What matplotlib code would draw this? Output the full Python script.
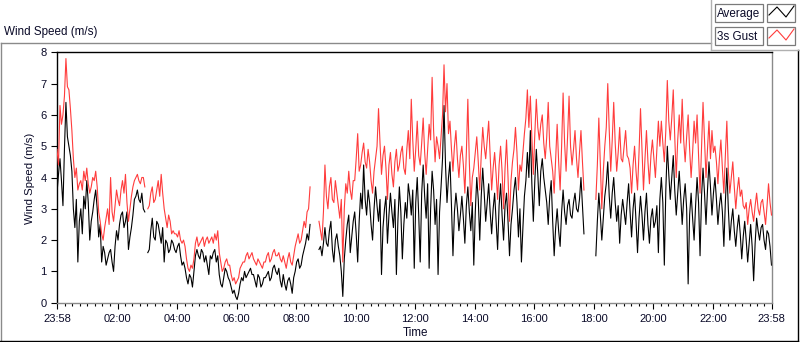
import numpy as np
import matplotlib
matplotlib.use("Agg")
import matplotlib.pyplot as plt
from matplotlib.lines import Line2D
from matplotlib.patches import Rectangle

nan = np.nan

# ---------------- data (3-minute samples starting 23:58) ----------------
start_label = "23:58"
sample_minutes = 3

average = [
    3.5, 4.1, 4.6, 3.9, 3.1, 4.9, 6.4, 5.3, 5.0, 4.7, 4.2, 3.0, 2.4, 3.3, 1.3, 2.6, 3.0, 2.2, 3.4, 3.0,
    3.9, 3.2, 2.0, 2.6, 2.9, 3.3, 3.6, 3.0, 2.1, 2.5, 1.3, 1.8, 1.6, 1.2, 1.4, 1.6, 1.7, 1.3, 1.0, 1.8,
    2.3, 2.0, 2.5, 2.8, 2.9, 2.4, 2.6, 2.9, 1.7, 2.1, 2.4, 2.8, 3.3, 3.4, 3.6, 3.3, 3.2, 3.5, 3.0, 2.9,
    nan, 1.6, 1.7, 2.3, 2.7, 2.1, 2.0, 2.6, 2.5, 2.2, 1.9, 2.4, 1.3, 2.0, 1.9, 1.6, 1.7, 2.0, 1.9, 1.7,
    1.6, 1.8, 1.9, 1.5, 1.2, 1.3, 1.1, 0.8, 0.6, 0.9, 0.8, 0.5, 1.0, 1.5, 1.7, 1.5, 1.4, 1.7, 1.6, 1.3,
    1.5, 1.2, 0.9, 1.5, 1.4, 1.6, 1.7, 1.3, 1.5, 0.9, 0.6, 0.5, 0.8, 1.1, 1.0, 0.8, 0.7, 0.5, 0.3, 0.4,
    0.2, 0.1, 0.3, 0.6, 0.8, 0.7, 1.0, 0.8, 0.9, 1.0, 1.1, 0.9, 0.9, 0.7, 0.5, 0.9, 0.8, 0.5, 0.6, 0.8,
    0.8, 0.9, 1.0, 0.7, 0.8, 1.1, 1.2, 1.0, 0.9, 1.1, 0.7, 0.5, 0.9, 0.6, 0.4, 0.7, 0.8, 0.6, 0.3, 0.8,
    1.0, 1.3, 1.4, 1.1, 1.2, 1.5, 1.7, 1.9, 2.2, 2.0, 2.5, nan, nan, nan, nan, nan, 1.7, 1.8, 1.5, 1.9,
    2.4, 1.9, 1.8, 2.3, 2.6, 1.7, 1.3, 2.0, 2.2, 1.8, 1.5, 1.0, 0.2, 1.4, 2.0, 2.5, 2.8, 1.6, 2.1, 2.6,
    2.9, 2.2, 1.3, 2.6, 3.5, 3.0, 4.4, 3.3, 2.8, 3.6, 3.2, 2.5, 2.0, 3.0, 3.7, 3.1, 2.6, 3.3, 0.9, 2.4,
    3.0, 3.4, 1.9, 2.8, 3.5, 2.9, 2.4, 3.3, 0.9, 2.6, 3.7, 2.9, 1.4, 2.5, 3.2, 2.7, 3.8, 3.4, 2.8, 3.6,
    1.1, 3.2, 4.0, 2.8, 1.3, 3.5, 4.4, 3.4, 2.7, 3.8, 1.1, 3.0, 4.2, 3.6, 2.5, 3.3, 0.9, 2.9, 3.7, 4.6,
    6.3, 4.4, 3.2, 4.0, 4.5, 3.1, 1.5, 2.9, 3.5, 3.0, 2.3, 2.8, 3.4, 2.7, 1.9, 3.1, 3.7, 2.9, 2.3, 3.2,
    1.2, 2.9, 4.0, 3.3, 2.0, 3.4, 4.3, 3.5, 2.6, 3.2, 3.8, 2.9, 2.2, 3.0, 3.5, 2.6, 1.7, 3.1, 3.8, 2.8,
    2.0, 3.1, 3.5, 2.6, 1.5, 2.5, 3.0, 3.6, 4.0, 3.2, 2.1, 3.0, 1.3, 2.4, 3.4, 3.9, 4.8, 4.0, 5.5, 3.8,
    2.6, 3.9, 4.9, 4.1, 3.1, 4.2, 4.6, 4.0, 3.6, 3.2, 2.5, 3.4, 3.9, 2.6, 1.5, 2.4, 3.0, 2.3, 1.8, 2.9,
    3.6, 2.9, 2.5, 3.1, 3.3, 2.8, 2.7, 3.2, 3.5, 3.0, 2.9, 3.3, 4.0, 3.1, 2.2, nan, nan, nan, nan, nan,
    nan, nan, 1.5, 2.6, 3.5, 2.8, 2.0, 2.7, 3.4, 3.8, 4.5, 3.4, 2.7, 3.5, 4.0, 3.2, 2.6, 3.1, 1.9, 2.8,
    3.3, 2.9, 2.5, 3.2, 3.8, 2.9, 2.1, 3.0, 3.5, 2.6, 1.6, 2.7, 3.4, 2.8, 2.0, 2.9, 3.5, 2.5, 1.9, 2.7,
    3.0, 2.4, 2.6, 3.1, 1.6, 3.3, 4.0, 3.2, 1.2, 3.6, 5.0, 4.1, 3.3, 4.0, 4.7, 3.6, 2.8, 3.5, 4.2, 3.4,
    2.5, 3.3, 3.8, 3.0, 0.6, 2.8, 3.5, 2.7, 2.0, 3.1, 4.0, 3.2, 1.5, 3.4, 4.3, 3.5, 2.5, 3.6, 4.5, 3.7,
    2.8, 3.5, 4.0, 3.3, 2.5, 3.1, 3.5, 2.9, 1.8, 3.2, 4.3, 3.0, 2.0, 2.6, 3.0, 2.3, 1.8, 2.4, 2.8, 2.2,
    1.4, 2.1, 2.6, 2.0, 1.3, 1.9, 2.5, 1.8, 0.7, 1.9, 2.7, 2.3, 2.0, 2.4, 2.5, 2.0, 1.7, 2.3, 2.2, 1.8,
    1.2,
]

gust = [
    4.9, 4.4, 6.3, 5.7, 6.0, 6.6, 7.8, 6.9, 6.8, 6.2, 5.5, 4.6, 4.0, 4.3, 3.6, 3.8, 3.9, 3.6, 4.2, 3.9,
    4.3, 3.8, 3.5, 3.7, 4.0, 3.9, 4.2, 3.7, 2.9, 2.6, 2.2, 2.0, 2.4, 2.7, 3.0, 2.5, 4.0, 2.9, 2.6, 3.1,
    3.6, 3.3, 3.1, 3.6, 3.9, 3.5, 4.1, 3.2, 2.6, 3.0, 3.4, 3.7, 3.9, 4.0, 4.1, 3.9, 3.8, 4.0, 4.0, 3.7,
    nan, 3.0, 3.1, 3.5, 3.7, 3.2, 3.3, 3.6, 3.9, 3.4, 4.1, 3.5, 3.0, 2.7, 2.4, 2.8, 2.6, 2.2, 2.3, 2.2,
    2.2, 2.1, 2.3, 2.0, 1.9, 2.0, 1.8, 1.4, 1.1, 1.0, 1.2, 1.1, 1.4, 1.9, 2.1, 1.8, 1.9, 2.0, 2.1, 1.8,
    2.0, 2.1, 1.9, 2.0, 2.1, 1.9, 2.2, 2.0, 2.3, 1.6, 1.3, 1.0, 1.1, 1.3, 1.4, 1.2, 1.2, 0.9, 0.7, 0.8,
    0.6, 0.7, 0.8, 1.1, 1.2, 1.3, 1.3, 1.5, 1.6, 1.4, 1.5, 1.6, 1.4, 1.3, 1.2, 1.4, 1.3, 1.2, 1.1, 1.3,
    1.3, 1.5, 1.6, 1.3, 1.4, 1.6, 1.7, 1.5, 1.5, 1.6, 1.4, 1.3, 1.5, 1.3, 1.1, 1.4, 1.6, 1.3, 1.2, 1.5,
    1.8, 2.0, 2.2, 1.9, 2.0, 2.3, 2.6, 2.4, 2.9, 3.0, 3.7, nan, nan, nan, nan, nan, 2.6, 2.3, 2.0, 2.9,
    4.4, 3.4, 3.0, 3.7, 4.0, 3.3, 3.2, 3.9, 3.5, 3.1, 2.7, 3.3, 1.3, 3.0, 3.8, 3.5, 4.2, 3.6, 3.3, 3.9,
    3.9, 4.6, 5.4, 4.2, 4.4, 4.8, 5.1, 4.5, 4.3, 4.9, 4.5, 3.9, 3.5, 4.2, 4.6, 5.0, 6.2, 5.1, 4.1, 4.7,
    5.0, 4.3, 3.3, 4.4, 4.8, 4.1, 3.7, 4.5, 4.9, 4.2, 4.4, 4.8, 5.0, 4.3, 4.1, 4.9, 5.5, 4.6, 6.5, 5.2,
    4.2, 4.9, 5.8, 4.7, 4.4, 5.1, 5.9, 4.8, 4.1, 4.9, 5.7, 5.2, 7.2, 5.5, 4.5, 5.3, 5.0, 4.6, 5.3, 6.0,
    7.6, 6.1, 7.0, 5.4, 5.8, 4.9, 4.2, 5.0, 5.5, 4.6, 4.0, 4.7, 5.0, 4.4, 3.5, 4.8, 6.5, 4.5, 3.1, 4.0,
    4.3, 4.8, 5.3, 4.5, 3.6, 4.7, 5.6, 5.0, 4.6, 5.2, 5.8, 4.7, 3.6, 4.3, 4.8, 4.1, 3.3, 4.4, 5.0, 4.2,
    3.0, 4.3, 5.2, 4.0, 2.6, 3.9, 4.5, 4.9, 5.6, 4.8, 3.6, 4.4, 4.2, 4.8, 5.4, 5.9, 6.8, 5.6, 6.6, 5.3,
    4.1, 5.4, 6.5, 5.6, 5.2, 5.7, 6.0, 5.1, 4.6, 5.3, 6.4, 5.0, 4.6, 4.2, 3.5, 4.6, 5.7, 4.5, 3.6, 5.0,
    6.7, 5.1, 4.2, 5.3, 6.6, 5.0, 4.4, 4.9, 5.5, 4.6, 4.0, 4.8, 5.5, 4.5, 3.6, nan, nan, nan, nan, nan,
    nan, nan, 3.3, 4.4, 5.9, 4.5, 3.0, 4.2, 5.0, 5.6, 7.0, 5.5, 4.2, 5.2, 6.4, 5.1, 4.2, 4.8, 5.6, 4.6,
    4.5, 5.0, 5.5, 4.7, 4.6, 4.3, 3.5, 4.4, 5.0, 4.2, 3.6, 4.8, 6.2, 4.9, 3.6, 4.6, 5.5, 4.5, 3.8, 4.7,
    5.2, 4.6, 4.0, 4.9, 5.8, 5.0, 5.8, 5.1, 4.5, 5.5, 7.1, 5.8, 5.2, 5.9, 6.8, 5.3, 4.0, 5.2, 6.0, 5.1,
    6.5, 5.2, 4.5, 5.3, 6.0, 4.9, 4.0, 4.8, 5.8, 5.1, 6.0, 4.7, 3.5, 5.0, 6.4, 5.2, 4.0, 4.9, 5.8, 4.6,
    5.5, 4.8, 5.0, 4.5, 3.8, 4.6, 5.2, 4.3, 3.5, 4.7, 5.8, 4.2, 3.5, 4.0, 4.5, 3.7, 3.0, 3.6, 4.0, 3.4,
    3.6, 3.1, 3.0, 3.2, 2.5, 3.0, 3.3, 2.9, 2.6, 3.1, 3.5, 3.0, 2.8, 3.2, 3.3, 2.9, 2.5, 3.1, 3.8, 3.2,
    2.8,
]

tick_labels = ["23:58", "02:00", "04:00", "06:00", "08:00", "10:00", "12:00",
               "14:00", "16:00", "18:00", "20:00", "22:00", "23:58"]
y_ticks = [0, 1, 2, 3, 4, 5, 6, 7, 8]
series_names = ["Average", "3s Gust"]
series_colors = ["#000000", "#ff3c3c"]

# ---------------- figure ----------------
W, H = 800, 342
fig = plt.figure(figsize=(W / 100, H / 100), dpi=100)
fig.patch.set_facecolor("white")
plt.rcParams["font.family"] = ["Liberation Sans", "DejaVu Sans"]


def fx(px):
    return px / W


def fy(py):
    return 1 - py / H


ax = fig.add_axes([fx(57), fy(302.7), (771.5 - 57) / W, (302.7 - 52.3) / H])


def to_min(lbl):
    h, m = lbl.split(":")
    return int(h) * 60 + int(m)


s0 = to_min(start_label)
major_pos = [(to_min(l) - s0) % 1440 for l in tick_labels]
major_pos[-1] = 1440
x = np.arange(len(average)) * sample_minutes

ax.plot(x, average, color=series_colors[0], lw=0.8, zorder=2)
ax.plot(x, gust, color=series_colors[1], lw=0.8, zorder=3)

ax.set_xlim(0, 1440)
ax.set_ylim(0, 8)

ax.set_xticks(major_pos)
ax.set_xticklabels(tick_labels)
minor = []
for a, b in zip(major_pos[:-1], major_pos[1:]):
    minor += list(np.linspace(a, b, 9)[1:-1])
ax.set_xticks(minor, minor=True)
ax.set_yticks(y_ticks)
ax.set_yticklabels([str(v) for v in y_ticks])

ax.tick_params(axis="x", which="major", length=4.5, width=0.8, direction="out",
               pad=3.5, labelsize=8)
ax.tick_params(axis="x", which="minor", length=2.3, width=0.8, direction="out")
ax.tick_params(axis="y", which="major", length=4.5, width=0.8, direction="out",
               pad=3, labelsize=8)
for lab in ax.get_xticklabels() + ax.get_yticklabels():
    lab.set_color("#0a0a28")

for side in ["top", "left"]:
    ax.spines[side].set_color("black")
    ax.spines[side].set_linewidth(1.0)
for side in ["bottom", "right"]:
    ax.spines[side].set_color("#8a8a8a")
    ax.spines[side].set_linewidth(1.0)

# labels
fig.text(fx(4), fy(32), "Wind Speed (m/s)", ha="left", va="center", fontsize=8.4,
         color="#0a0a28")
fig.text(fx(30), fy(178), "Wind Speed (m/s)", ha="center", va="center",
         rotation=90, fontsize=8.2, color="#0a0a28")
fig.text(fx(415), fy(333.5), "Time", ha="center", va="center", fontsize=8.4,
         color="#0a0a28")


def fline(xs, ys, color, lw=1.0):
    fig.add_artist(Line2D([fx(v) for v in xs], [fy(v) for v in ys],
                          transform=fig.transFigure, color=color, lw=lw))


# outer panel frame
fline([0.5, 711], [42.5, 42.5], "#8a8a8a")
fline([0.5, 0.5], [42.5, 341], "#8a8a8a")
fline([0, 797.5], [340.8, 340.8], "black")
fline([797.5, 797.5], [49.5, 341], "black")
fline([711, 711], [0, 49.5], "#b0b0b0")
fline([711, 800], [49.5, 49.5], "#b0b0b0")

# legend
rows = [(4, 22), (27, 45)]
for (top, bot), name, col in zip(rows, series_names, series_colors):
    fig.add_artist(Rectangle((fx(715), fy(bot)), (763 - 715) / W, (bot - top) / H,
                             transform=fig.transFigure, facecolor="white",
                             edgecolor="#7a7a7a", lw=0.9))
    fig.text(fx(717), fy((top + bot) / 2 + 0.5), name, ha="left", va="center",
             fontsize=8.4, color="#0a0a28")
    fig.add_artist(Rectangle((fx(767), fy(bot)), (795 - 767) / W, (bot - top) / H,
                             transform=fig.transFigure, facecolor="white",
                             edgecolor="#7a7a7a", lw=0.9))
    fline([769, 777, 786, 794], [top + 11, top + 3, top + 13, top + 2], col, lw=0.8)

fig.savefig("out.png", dpi=100, facecolor="white")
